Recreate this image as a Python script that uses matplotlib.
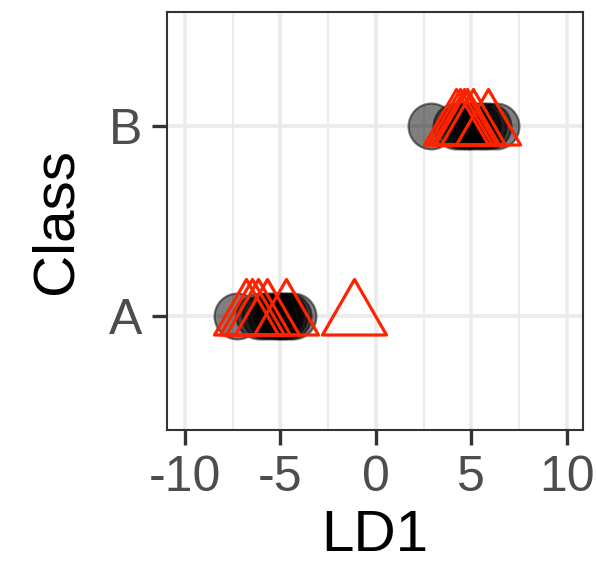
import matplotlib.pyplot as plt
import matplotlib.path as mpath

plt.rcParams["font.family"] = ["Liberation Sans", "DejaVu Sans"]

classes = ["A", "B"]
train_A = [-7.3, -6.1, -5.8, -5.5, -5.2, -5.0, -4.8, -4.6, -4.35]
train_B = [2.9, 4.2, 4.5, 4.8, 5.0, 5.3, 5.6, 5.9, 6.3]
test_A = [-6.8, -6.5, -6.2, -5.7, -4.7, -1.15]
test_B = [4.2, 4.4, 4.6, 4.8, 5.1, 5.9]

# triangle centred on its centroid, like ggplot shape 2
tri = mpath.Path([(-32, -18.5), (32, -18.5), (0, 37), (0, 0)],
                 [mpath.Path.MOVETO, mpath.Path.LINETO, mpath.Path.LINETO, mpath.Path.CLOSEPOLY])

fig = plt.figure(figsize=(5.96, 5.67), dpi=100)
ax = fig.add_axes([0.280, 0.242, 0.698, 0.737])

for i, (tr, te) in enumerate([(train_A, test_A), (train_B, test_B)]):
    y = i + 1
    ax.plot(tr, [y] * len(tr), "o", ms=33, mfc=(0, 0, 0, 0.5), mec=(0, 0, 0, 0.5), mew=1.6,
            linestyle="none", zorder=3)
    ax.plot(te, [y] * len(te), marker=tri, ms=53.3, mfc="none", mec="#FF2200", mew=2.3,
            linestyle="none", zorder=4)

ax.set_xlim(-10.95, 10.85)
ax.set_ylim(0.4, 2.6)
ax.set_xticks([-10, -5, 0, 5, 10])
ax.set_xticklabels(["-10", "-5", "0", "5", "10"])
ax.set_xticks([-7.5, -2.5, 2.5, 7.5], minor=True)
ax.set_yticks([1, 2])
ax.set_yticklabels(classes)

ax.grid(True, which="major", color="#EBEBEB", linewidth=2.6, zorder=0)
ax.grid(True, which="minor", axis="x", color="#EBEBEB", linewidth=1.3, zorder=0)
ax.set_axisbelow(True)

ax.tick_params(which="major", length=11, width=2.4, color="#333333", labelsize=36,
               labelcolor="#4D4D4D", pad=7)
ax.tick_params(which="minor", length=0)
for s in ax.spines.values():
    s.set_color("#333333")
    s.set_linewidth(1.5)

ax.set_xlabel("LD1", fontsize=42, labelpad=6)
ax.set_ylabel("Class", fontsize=42, labelpad=18)

fig.savefig("out.png", dpi=100)
